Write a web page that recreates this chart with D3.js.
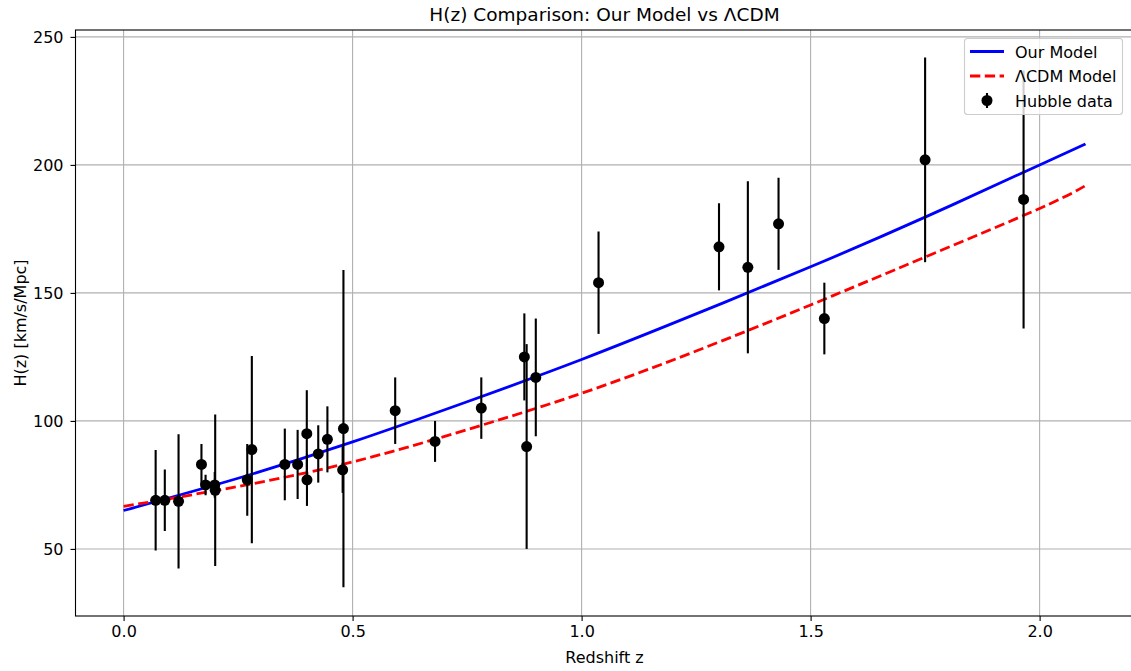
<!DOCTYPE html>
<html>
<head>
<meta charset="utf-8">
<script src="https://cdn.jsdelivr.net/npm/d3@7"></script>
<style>
  html, body { margin: 0; padding: 0; background: #fff; overflow: hidden; }
  svg { display: block; font-family: "DejaVu Sans", sans-serif; }
</style>
</head>
<body>
<svg id="chart" width="1131" height="671"></svg>
<script>
// ---- Data ----
const zData   = [0.07, 0.09, 0.12, 0.17, 0.179, 0.199, 0.2, 0.27, 0.28, 0.352, 0.38, 0.4, 0.4004, 0.425, 0.445, 0.4783, 0.48, 0.593, 0.68, 0.781, 0.875, 0.88, 0.9, 1.037, 1.3, 1.363, 1.43, 1.53, 1.75, 1.965];
const hData   = [69, 69, 68.6, 83, 75, 75, 72.9, 77, 88.8, 83, 83, 95, 77, 87.1, 92.8, 80.9, 97, 104, 92, 105, 125, 90, 117, 154, 168, 160, 177, 140, 202, 186.5];
const hErr    = [19.6, 12, 26.2, 8, 4, 5, 29.6, 14, 36.6, 14, 13.5, 17, 10.2, 11.2, 12.9, 9, 62, 13, 8, 12, 17, 40, 23, 20, 17, 33.6, 18, 14, 40, 50.4];

const zModel   = [0, 0.25, 0.5, 0.75, 1.0, 1.25, 1.5, 1.75, 2.0, 2.1];
const hOurs    = [65.0, 77.6, 91.8, 107.5, 124.0, 141.8, 160.2, 179.6, 200.0, 208.2];
const hLCDM    = [66.6, 74.4, 84.0, 96.6, 110.8, 127.3, 145.3, 164.0, 183.0, 191.9];

const xTicks = [0.0, 0.5, 1.0, 1.5, 2.0];
const yTicks = [50, 100, 150, 200, 250];

const titleText = "H(z) Comparison: Our Model vs \u039BCDM";
const xLabel = "Redshift z";
const yLabel = "H(z) [km/s/Mpc]";
const legendLabels = ["Our Model", "\u039BCDM Model", "Hubble data"];

// ---- Layout ----
const svg = d3.select("#chart");
const L = 75.5, R = 1133.5, T = 30, B = 616;

const x = d3.scaleLinear().domain([-0.105, 2.205]).range([L, R]);
const y = d3.scaleLinear().domain([23.8, 252.7]).range([B, T]);

// grid
const grid = svg.append("g");
grid.selectAll("line.gx").data(xTicks).enter().append("line")
  .attr("x1", d => x(d)).attr("x2", d => x(d)).attr("y1", T).attr("y2", B)
  .attr("stroke", "#b0b0b0").attr("stroke-width", 1.1);
grid.selectAll("line.gy").data(yTicks).enter().append("line")
  .attr("y1", d => y(d)).attr("y2", d => y(d)).attr("x1", L).attr("x2", R)
  .attr("stroke", "#b0b0b0").attr("stroke-width", 1.1);

// clip
svg.append("clipPath").attr("id", "clip").append("rect")
  .attr("x", L).attr("y", T).attr("width", R - L).attr("height", B - T);

const plot = svg.append("g").attr("clip-path", "url(#clip)");

// model lines
const lineGen = d3.line().x((d, i) => x(zModel[i])).y(d => y(d)).curve(d3.curveNatural);
plot.append("path").datum(hOurs).attr("d", lineGen)
  .attr("fill", "none").attr("stroke", "#0000ff").attr("stroke-width", 2.8);
plot.append("path").datum(hLCDM).attr("d", lineGen)
  .attr("fill", "none").attr("stroke", "#ff0000").attr("stroke-width", 2.8)
  .attr("stroke-dasharray", "10.3,4.5");

// error bars
const pts = zData.map((z, i) => ({ z, h: hData[i], e: hErr[i] }));
plot.selectAll("line.err").data(pts).enter().append("line")
  .attr("x1", d => x(d.z)).attr("x2", d => x(d.z))
  .attr("y1", d => y(d.h - d.e)).attr("y2", d => y(d.h + d.e))
  .attr("stroke", "#000").attr("stroke-width", 2.1);
plot.selectAll("circle.pt").data(pts).enter().append("circle")
  .attr("cx", d => x(d.z)).attr("cy", d => y(d.h)).attr("r", 5.5)
  .attr("fill", "#000");

// axes
const xAxis = d3.axisBottom(x).tickValues(xTicks).tickFormat(d3.format(".1f")).tickSizeInner(5).tickSizeOuter(0).tickPadding(5);
const yAxis = d3.axisLeft(y).tickValues(yTicks).tickFormat(d3.format("d")).tickSizeInner(5).tickSizeOuter(0).tickPadding(7);

const gx = svg.append("g").attr("transform", `translate(0,${B})`).call(xAxis);
const gy = svg.append("g").attr("transform", `translate(${L},0)`).call(yAxis);
[gx, gy].forEach(g => {
  g.select(".domain").remove();
  g.selectAll(".tick line").attr("stroke", "#000").attr("stroke-width", 1.1);
  g.selectAll(".tick text").attr("fill", "#000").style("font-size", "16px").style("font-family", "DejaVu Sans");
});

// spines
svg.append("rect").attr("x", L).attr("y", T).attr("width", R - L).attr("height", B - T)
  .attr("fill", "none").attr("stroke", "#000").attr("stroke-width", 1.1);

// title & labels
svg.append("text").attr("x", (L + R) / 2).attr("y", 20.5).attr("text-anchor", "middle")
  .style("font-size", "18.5px").attr("fill", "#000").text(titleText);
svg.append("text").attr("x", (L + R) / 2).attr("y", 663).attr("text-anchor", "middle")
  .style("font-size", "16px").attr("fill", "#000").text(xLabel);
svg.append("text").attr("transform", `translate(26,${(T + B) / 2}) rotate(-90)`).attr("text-anchor", "middle")
  .style("font-size", "16px").attr("fill", "#000").text(yLabel);

// legend
const lg = svg.append("g");
lg.append("rect").attr("x", 964.5).attr("y", 38.5).attr("width", 158).attr("height", 76).attr("rx", 3)
  .attr("fill", "#fff").attr("fill-opacity", 0.8).attr("stroke", "#cccccc").attr("stroke-width", 1.1);
const rowsY = [51.5, 76, 100.5];
lg.append("line").attr("x1", 970).attr("x2", 1004).attr("y1", rowsY[0]).attr("y2", rowsY[0])
  .attr("stroke", "#0000ff").attr("stroke-width", 2.8);
lg.append("line").attr("x1", 970).attr("x2", 1004).attr("y1", rowsY[1]).attr("y2", rowsY[1])
  .attr("stroke", "#ff0000").attr("stroke-width", 2.8).attr("stroke-dasharray", "10.3,4.5");
lg.append("line").attr("x1", 987).attr("x2", 987).attr("y1", rowsY[2] - 7.5).attr("y2", rowsY[2] + 7.5)
  .attr("stroke", "#000").attr("stroke-width", 2.1);
lg.append("circle").attr("cx", 987).attr("cy", rowsY[2]).attr("r", 5.5).attr("fill", "#000");
lg.selectAll("text.lt").data(legendLabels).enter().append("text")
  .attr("x", 1015).attr("y", (d, i) => rowsY[i] + 6)
  .style("font-size", "16px").attr("fill", "#000").text(d => d);
</script>
</body>
</html>
